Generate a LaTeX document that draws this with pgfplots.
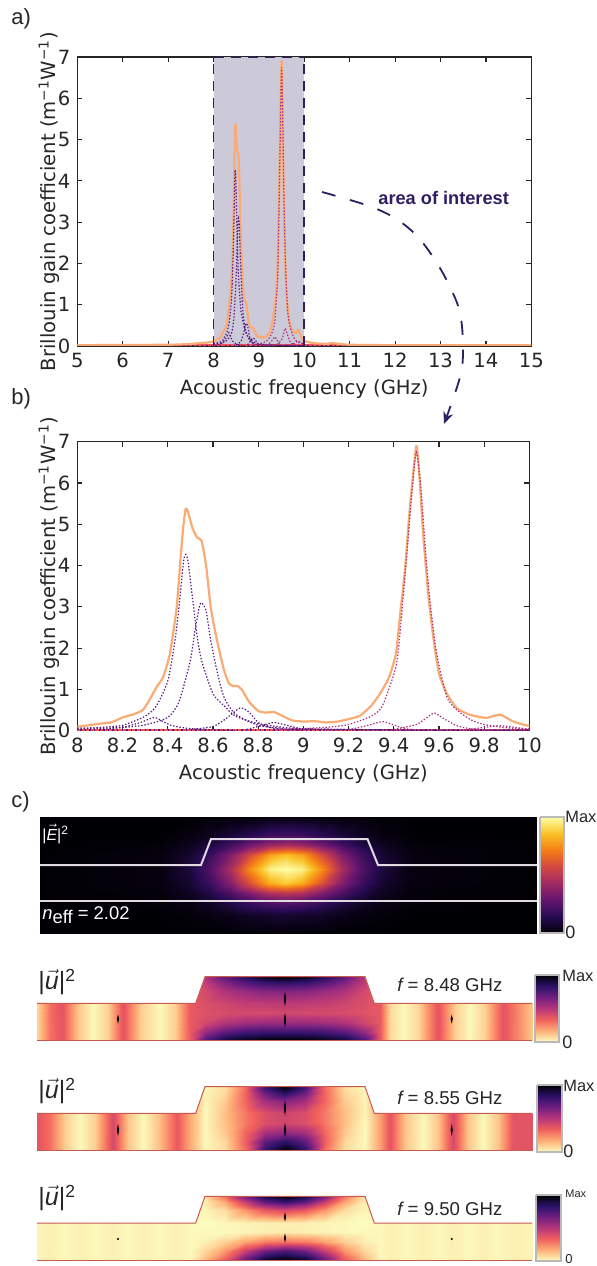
\documentclass[border=0pt]{standalone}
\usepackage{fontspec}
\usepackage{pgfplots}
\usepackage{pgfplotstable}
\pgfplotsset{compat=1.18}
\usetikzlibrary{arrows.meta}
\setmainfont{DejaVu Sans}
\newfontfamily\hv{Liberation Sans}
\definecolor{navy}{RGB}{48,30,100}
\definecolor{shade}{RGB}{204,201,216}
\definecolor{orng}{RGB}{250,170,115}
\definecolor{purp}{RGB}{88,24,128}
\definecolor{mage}{RGB}{172,45,125}
\definecolor{redd}{RGB}{240,80,90}
\definecolor{axc}{RGB}{38,38,38}
\definecolor{frm}{RGB}{185,185,185}
\definecolor{edge}{RGB}{198,90,80}
\definecolor{wg}{RGB}{226,218,226}
\pgfplotsset{colormap={inferno}{rgb255=(0,0,4) rgb255=(40,11,84) rgb255=(101,21,110) rgb255=(159,42,99) rgb255=(212,72,66) rgb255=(245,125,21) rgb255=(250,193,39) rgb255=(252,255,164)}}
\pgfplotsset{colormap={magmar}{rgb255=(252,253,191) rgb255=(254,176,120) rgb255=(241,96,93) rgb255=(183,55,121) rgb255=(114,31,129) rgb255=(44,17,104) rgb255=(0,0,4)}}
% spectra
\pgfplotstableread{
x y
5 .02
7 .03
7.5 .05
7.8 .08
8.0 .1
8.1 .17
8.15 .2
8.2 .32
8.25 .4
8.29 .5
8.32 .75
8.35 1.05
8.38 1.3
8.41 1.87
8.44 3.0
8.46 4.4
8.47 5.0
8.48 5.38
8.49 5.3
8.51 4.9
8.53 4.68
8.55 4.6
8.57 4.0
8.59 3.0
8.61 2.4
8.63 1.9
8.65 1.45
8.67 1.15
8.69 1.08
8.71 1.08
8.73 .98
8.76 .7
8.8 .48
8.83 .44
8.87 .45
8.9 .38
8.95 .25
9.0 .22
9.05 .23
9.1 .2
9.15 .22
9.2 .28
9.25 .36
9.3 .6
9.34 .9
9.38 1.3
9.41 1.87
9.43 2.9
9.45 3.9
9.47 5.3
9.5 6.9
9.515 6.07
9.53 4.78
9.553 3.3
9.575 2.27
9.6 1.39
9.635 .9
9.68 .54
9.74 .38
9.81 .31
9.87 .39
9.93 .22
10 .12
10.2 .07
10.5 .05
10.6 .07
10.8 .05
11 .03
12 .02
15 .02
}\Total
\pgfplotstableread{
x y
8.0 .06
8.1 .08
8.2 .13
8.3 .35
8.35 .6
8.4 1.2
8.43 2.1
8.45 3.0
8.47 4.1
8.48 4.27
8.49 4.1
8.51 3.2
8.53 2.3
8.55 1.7
8.6 .9
8.65 .6
8.7 .35
8.8 .17
8.9 .09
9 .05
9.5 .01
10 .01
}\SerA
\pgfplotstableread{
x y
8.0 .04
8.2 .08
8.3 .14
8.4 .32
8.45 .7
8.5 1.7
8.52 2.4
8.54 3.0
8.55 3.1
8.57 2.9
8.59 2.2
8.62 1.4
8.65 .8
8.7 .4
8.8 .13
8.9 .06
9 .03
10 .01
}\SerB
\pgfplotstableread{
x y
8.1 .03
8.2 .08
8.28 .2
8.34 .32
8.38 .22
8.42 .12
8.5 .05
8.6 .02
8.7 0
}\SerC
\pgfplotstableread{
x y
8.5 .03
8.6 .1
8.66 .3
8.72 .55
8.76 .45
8.8 .2
8.85 .08
8.9 .04
9 .02
}\SerD
\pgfplotstableread{
x y
8.75 .03
8.82 .13
8.87 .2
8.92 .14
9 .03
}\SerE
\pgfplotstableread{
x y
8.9 .03
9.1 .08
9.2 .15
9.3 .35
9.35 .6
9.41 1.55
9.43 2.5
9.457 4.2
9.48 5.75
9.5 6.75
9.52 5.9
9.54 4.4
9.56 3.16
9.59 1.87
9.635 .82
9.68 .5
9.74 .27
9.8 .15
9.9 .07
10 .04
}\SerF
\pgfplotstableread{
x y
9.1 0
9.2 .03
9.28 .12
9.35 .22
9.4 .14
9.45 .05
9.5 .02
}\SerG
\pgfplotstableread{
x y
9.4 .03
9.5 .15
9.55 .33
9.58 .43
9.62 .3
9.68 .12
9.75 .04
9.85 .01
}\SerH
\pgfplotstableread{
x y
9.7 .01
9.8 .08
9.87 .12
9.95 .07
10 .04
}\SerI
\pgfplotstableread{
x y
5 0
15 0
}\Zero
% optical field
\pgfplotstableread{
x y v
40 817 0
160 817 0
190 817 0
210 817 .01
230 817 .01
250 817 .01
270 817 .02
286 817 .02
302 817 .02
322 817 .01
342 817 .01
362 817 .01
382 817 0
412 817 0
537 817 0
40 835 0
160 835 0
190 835 .02
210 835 .05
230 835 .09
250 835 .14
270 835 .19
286 835 .2
302 835 .19
322 835 .14
342 835 .09
362 835 .05
382 835 .02
412 835 0
537 835 0
40 845 0
160 845 .01
190 845 .05
210 845 .11
230 845 .2
250 845 .32
270 845 .42
286 845 .45
302 845 .42
322 845 .32
342 845 .2
362 845 .11
382 845 .05
412 845 .01
537 845 0
40 855 0
160 855 .02
190 855 .08
210 855 .19
230 855 .35
250 855 .58
270 855 .8
286 855 .86
302 855 .8
322 855 .58
342 855 .35
362 855 .19
382 855 .08
412 855 .02
537 855 0
40 869 0
160 869 .02
190 869 .1
210 869 .24
230 869 .45
250 869 .75
270 869 .97
286 869 1
302 869 .97
322 869 .75
342 869 .45
362 869 .24
382 869 .1
412 869 .02
537 869 0
40 883 0
160 883 .02
190 883 .08
210 883 .19
230 883 .36
250 883 .6
270 883 .82
286 883 .88
302 883 .82
322 883 .6
342 883 .36
362 883 .19
382 883 .08
412 883 .02
537 883 0
40 893 0
160 893 .01
190 893 .05
210 893 .12
230 893 .23
250 893 .35
270 893 .47
286 893 .5
302 893 .47
322 893 .35
342 893 .23
362 893 .12
382 893 .05
412 893 .01
537 893 0
40 903 0
160 903 .01
190 903 .03
210 903 .06
230 903 .11
250 903 .18
270 903 .23
286 903 .25
302 903 .23
322 903 .18
342 903 .11
362 903 .06
382 903 .03
412 903 .01
537 903 0
40 915 0
160 915 0
190 915 .01
210 915 .02
230 915 .04
250 915 .06
270 915 .07
286 915 .08
302 915 .07
322 915 .06
342 915 .04
362 915 .02
382 915 .01
412 915 0
537 915 0
40 933 0
160 933 0
190 933 0
210 933 0
230 933 0
250 933 .01
270 933 .01
286 933 .01
302 933 .01
322 933 .01
342 933 0
362 933 0
382 933 0
412 933 0
537 933 0
}\Efield
% acoustic fields: centre part, local y measured from the rib top
\pgfplotstableread{
x y v
190 0 .36
205 0 .52
225 0 .72
245 0 .85
265 0 .95
285 0 1
305 0 .95
325 0 .85
345 0 .72
365 0 .52
380 0 .36
190 6 .36
205 6 .47
225 6 .62
245 6 .73
265 6 .8
285 6 .82
305 6 .8
325 6 .73
345 6 .62
365 6 .47
380 6 .36
190 14 .36
205 14 .42
225 14 .52
245 14 .58
265 14 .62
285 14 .63
305 14 .62
325 14 .58
345 14 .52
365 14 .42
380 14 .36
190 26.6 .36
205 26.6 .4
225 26.6 .44
245 26.6 .47
265 26.6 .48
285 26.6 .49
305 26.6 .48
325 26.6 .47
345 26.6 .44
365 26.6 .4
380 26.6 .36
190 36 .36
205 36 .39
225 36 .41
245 36 .42
265 36 .42
285 36 .43
305 36 .42
325 36 .42
345 36 .41
365 36 .39
380 36 .36
190 46 .36
205 46 .43
225 46 .52
245 46 .56
265 46 .58
285 46 .58
305 46 .58
325 46 .56
345 46 .52
365 46 .43
380 46 .36
190 55 .36
205 55 .58
225 55 .72
245 55 .78
265 55 .8
285 55 .8
305 55 .8
325 55 .78
345 55 .72
365 55 .58
380 55 .36
190 63.6 .36
205 63.6 .75
225 63.6 .92
245 63.6 .97
265 63.6 1
285 63.6 1
305 63.6 1
325 63.6 .97
345 63.6 .92
365 63.6 .75
380 63.6 .36
}\Uac
\pgfplotstableread{
x y v
37 26.6 .08
50 26.6 .3
62 26.6 .38
78 26.6 .12
93 26.6 .01
108 26.6 .1
123 26.6 .38
141 26.6 .1
160 26.6 .01
175 26.6 .1
190 26.6 .36
37 63.6 .08
50 63.6 .3
62 63.6 .38
78 63.6 .12
93 63.6 .01
108 63.6 .1
123 63.6 .38
141 63.6 .1
160 63.6 .01
175 63.6 .1
190 63.6 .36
}\Ual
\pgfplotstableread{
x y v
380 26.6 .36
390 26.6 .08
403 26.6 .01
418 26.6 .08
438 26.6 .38
455 26.6 .1
470 26.6 .01
485 26.6 .1
503 26.6 .38
518 26.6 .25
532 26.6 .12
380 63.6 .36
390 63.6 .08
403 63.6 .01
418 63.6 .08
438 63.6 .38
455 63.6 .1
470 63.6 .01
485 63.6 .1
503 63.6 .38
518 63.6 .25
532 63.6 .12
}\Uar
\pgfplotstableread{
x y v
190 0 .18
205 0 .01
225 0 .07
245 0 .3
265 0 .8
285 0 1
305 0 .8
325 0 .3
345 0 .07
365 0 .01
380 0 .2
190 6 .18
205 6 .02
225 6 .08
245 6 .32
265 6 .68
285 6 .85
305 6 .68
325 6 .32
345 6 .08
365 6 .02
380 6 .2
190 14 .18
205 14 .02
225 14 .11
245 14 .32
265 14 .55
285 14 .62
305 14 .55
325 14 .32
345 14 .11
365 14 .02
380 14 .2
190 26.6 .18
205 26.6 .01
225 26.6 .13
245 26.6 .28
265 26.6 .4
285 26.6 .44
305 26.6 .4
325 26.6 .28
345 26.6 .13
365 26.6 .02
380 26.6 .2
190 36 .18
205 36 .01
225 36 .13
245 36 .28
265 36 .4
285 36 .43
305 36 .4
325 36 .28
345 36 .13
365 36 .01
380 36 .2
190 46 .18
205 46 .01
225 46 .11
245 46 .32
265 46 .55
285 46 .6
305 46 .55
325 46 .32
345 46 .11
365 46 .01
380 46 .2
190 55 .18
205 55 .01
225 55 .08
245 55 .34
265 55 .72
285 55 .85
305 55 .72
325 55 .34
345 55 .08
365 55 .01
380 55 .2
190 63.6 .18
205 63.6 .01
225 63.6 .07
245 63.6 .3
265 63.6 .82
285 63.6 1
305 63.6 .82
325 63.6 .3
345 63.6 .07
365 63.6 .01
380 63.6 .2
}\Ubc
\pgfplotstableread{
x y v
37 26.6 .38
50 26.6 .3
65 26.6 .1
80 26.6 .01
95 26.6 .1
113 26.6 .42
128 26.6 .12
143 26.6 .01
158 26.6 .12
177 26.6 .36
190 26.6 .18
37 63.6 .38
50 63.6 .3
65 63.6 .1
80 63.6 .01
95 63.6 .1
113 63.6 .42
128 63.6 .12
143 63.6 .01
158 63.6 .12
177 63.6 .36
190 63.6 .18
}\Ubl
\pgfplotstableread{
x y v
380 26.6 .2
390 26.6 .38
405 26.6 .12
423 26.6 .01
438 26.6 .12
453 26.6 .42
468 26.6 .12
483 26.6 .01
498 26.6 .12
513 26.6 .38
532 26.6 .38
380 63.6 .2
390 63.6 .38
405 63.6 .12
423 63.6 .01
438 63.6 .12
453 63.6 .42
468 63.6 .12
483 63.6 .01
498 63.6 .12
513 63.6 .38
532 63.6 .38
}\Ubr
\pgfplotstableread{
x y v
190 0 .01
205 0 .06
225 0 .3
245 0 .68
265 0 .92
285 0 1
305 0 .92
325 0 .68
345 0 .3
365 0 .06
380 0 .02
190 6 .01
205 6 .03
225 6 .18
245 6 .45
265 6 .7
285 6 .8
305 6 .7
325 6 .45
345 6 .18
365 6 .03
380 6 .02
190 14 .01
205 14 .02
225 14 .07
245 14 .22
265 14 .36
285 14 .42
305 14 .36
325 14 .22
345 14 .07
365 14 .02
380 14 .02
190 26.6 .01
205 26.6 0
225 26.6 .01
245 26.6 .02
265 26.6 .03
285 26.6 .03
305 26.6 .03
325 26.6 .02
345 26.6 .01
365 26.6 0
380 26.6 .01
190 36 .01
205 36 .01
225 36 .01
245 36 .02
265 36 .03
285 36 .04
305 36 .03
325 36 .02
345 36 .01
365 36 .01
380 36 .01
190 46 .01
205 46 .03
225 46 .1
245 46 .2
265 46 .28
285 46 .3
305 46 .28
325 46 .2
345 46 .1
365 46 .03
380 46 .01
190 55 .01
205 55 .08
225 55 .22
245 55 .46
265 55 .68
285 55 .76
305 55 .68
325 55 .46
345 55 .22
365 55 .08
380 55 .01
190 63.6 .01
205 63.6 .14
225 63.6 .35
245 63.6 .7
265 63.6 .95
285 63.6 1
305 63.6 .95
325 63.6 .7
345 63.6 .35
365 63.6 .14
380 63.6 .01
}\Ucc
\pgfplotstableread{
x y v
37 26.6 .02
50 26.6 .03
65 26.6 .01
80 26.6 .03
95 26.6 .01
113 26.6 .03
128 26.6 .01
143 26.6 .03
158 26.6 .01
177 26.6 .03
190 26.6 .01
37 63.6 .02
50 63.6 .03
65 63.6 .01
80 63.6 .03
95 63.6 .01
113 63.6 .03
128 63.6 .01
143 63.6 .03
158 63.6 .01
177 63.6 .03
190 63.6 .01
}\Ucl
\pgfplotstableread{
x y v
380 26.6 .01
390 26.6 .03
405 26.6 .01
423 26.6 .03
438 26.6 .01
453 26.6 .03
468 26.6 .01
483 26.6 .03
498 26.6 .01
513 26.6 .03
532 26.6 .02
380 63.6 .01
390 63.6 .03
405 63.6 .01
423 63.6 .03
438 63.6 .01
453 63.6 .03
468 63.6 .01
483 63.6 .03
498 63.6 .01
513 63.6 .03
532 63.6 .02
}\Ucr
\pgfplotsset{
  specaxis/.style={
    scale only axis, tick align=inside, major tick length=2.5pt,
    xtick pos=both, ytick pos=both,
    axis line style={axc,line width=.6pt}, tick style={axc,line width=.6pt},
    ymin=0,ymax=7,ytick={0,...,7},
    /pgf/number format/assume math mode=true,
    tick label style={font=\fontsize{9.8}{11}\selectfont,text=axc},
    label style={font=\fontsize{9.8}{11}\selectfont,text=axc},
    xlabel={Acoustic frequency (GHz)},
    ylabel={Brillouin gain coefficient (m\textsuperscript{−1}W\textsuperscript{−1})},
    xlabel shift=-1pt, ylabel shift=-8pt,
  },
  dots/.style={line width=.6pt,dash pattern=on .7pt off .9pt,forget plot,smooth,tension=.4},
  full/.style={scale only axis,at={(0,0)},anchor=south west,width=298pt,height=633pt,
    xmin=0,xmax=596,ymin=0,ymax=1266,y dir=reverse,hide axis,point meta min=0,point meta max=1},
  hm/.style={surf,shader=interp,mesh/cols=#1,point meta=explicit},
}
\newcommand{\curves}{
  \addplot[redd,line width=1.6pt] table{\Zero};
  \addplot[purp,line width=1.2pt,dash pattern=on .7pt off 1.6pt] table{\Zero};
  \addplot[orng,line width=1.1pt,line join=round,smooth,tension=.3] table{\Total};
  \addplot[dots,purp] table{\SerA};
  \addplot[dots,purp] table{\SerB};
  \addplot[dots,purp] table{\SerC};
  \addplot[dots,purp] table{\SerD};
  \addplot[dots,purp] table{\SerE};
  \addplot[dots,mage] table{\SerF};
  \addplot[dots,mage] table{\SerG};
  \addplot[dots,mage] table{\SerH};
  \addplot[dots,mage] table{\SerI};
}
\newcommand{\field}[4]{% centre, left, right, top offset
  \addplot[hm=11] table[x=x,y expr=\thisrow{y}+#4,meta=v]{#1};
  \addplot[hm=11] table[x=x,y expr=\thisrow{y}+#4,meta=v]{#2};
  \addplot[hm=11] table[x=x,y expr=\thisrow{y}+#4,meta=v]{#3};
}
\begin{document}
\begin{tikzpicture}[x=1pt,y=1pt]
\useasboundingbox (0,0) rectangle (298,633);
% panel a
\begin{axis}[specaxis,at={(38.65pt,460pt)},anchor=south west,width=227pt,height=144.5pt,
  xmin=5,xmax=15,xtick={5,...,15}]
\addplot[fill=shade,draw=none,forget plot] coordinates {(8,0)(10,0)(10,7)(8,7)} --cycle;
\curves
\addplot[navy,line width=.95pt,dash pattern=on 5pt off 3.5pt] coordinates {(8,0)(8,7)};
\addplot[navy,line width=.95pt,dash pattern=on 5pt off 3.5pt] coordinates {(10,0)(10,7)};
\addplot[navy,line width=.95pt,dash pattern=on 5pt off 3.5pt] coordinates {(8,7)(10,7)};
\end{axis}
% panel b
\begin{axis}[specaxis,at={(38.65pt,267.65pt)},anchor=south west,width=226pt,height=144.5pt,
  xmin=8,xmax=10,xtick={8,8.2,8.4,8.6,8.8,9,9.2,9.4,9.6,9.8,10},xticklabels={8,8.2,8.4,8.6,8.8,9,9.2,9.4,9.6,9.8,10}]
\curves
\end{axis}
% optical field
\begin{axis}[full,colormap name=inferno]
\addplot[hm=15] table[x=x,y=y,meta=v]{\Efield};
\addplot[wg,line width=1pt] coordinates {(40,865)(201,865)(211,839)(367.5,839)(378,865)(537,865)};
\addplot[wg,line width=1pt] coordinates {(40,901)(537,901)};
\addplot[hm=2] table[x=x,y=y,meta=v,row sep=\\]{x y v\\ 540 817 1\\ 564 817 1\\ 540 933 0\\ 564 933 0\\};
\addplot[frm,line width=.6pt] coordinates {(540,817)(564,817)(564,933)(540,933)(540,817)};
\end{axis}
% acoustic fields
\begin{axis}[full,colormap name=magmar]
\field{\Uac}{\Ual}{\Uar}{976.7}
\addplot[fill=white,draw=none] coordinates {(36,975)(206,975)(195.7,1003.3)(36,1003.3)} --cycle;
\addplot[fill=white,draw=none] coordinates {(533,975)(364,975)(374.3,1003.3)(533,1003.3)} --cycle;
\addplot[edge,line width=.5pt] coordinates {(37,1003.3)(195.7,1003.3)(205,976.7)(365,976.7)(374.3,1003.3)(532,1003.3)};
\addplot[edge,line width=.5pt] coordinates {(37,1040.3)(532,1040.3)};
\addplot[only marks,mark=diamond*,black,mark size=1.9pt,mark options={xscale=.26,yscale=1.3}] coordinates {(285,999)(285,1020)};
\addplot[only marks,mark=diamond*,black,mark size=1.1pt,mark options={xscale=.4,yscale=1.3}] coordinates {(118,1019)(451.7,1019)};
\addplot[hm=2] table[x=x,y=y,meta=v,row sep=\\]{x y v\\ 535 975 1\\ 559 975 1\\ 535 1042 0\\ 559 1042 0\\};
\addplot[frm,line width=.6pt] coordinates {(535,975)(559,975)(559,1042)(535,1042)(535,975)};
\field{\Ubc}{\Ubl}{\Ubr}{1086.7}
\addplot[fill=white,draw=none] coordinates {(36,1085)(206,1085)(195.7,1113.3)(36,1113.3)} --cycle;
\addplot[fill=white,draw=none] coordinates {(533,1085)(364,1085)(374.3,1113.3)(533,1113.3)} --cycle;
\addplot[edge,line width=.5pt] coordinates {(37,1113.3)(195.7,1113.3)(205,1086.7)(365,1086.7)(374.3,1113.3)(532,1113.3)};
\addplot[edge,line width=.5pt] coordinates {(37,1150.3)(532,1150.3)};
\addplot[only marks,mark=diamond*,black,mark size=1.9pt,mark options={xscale=.26,yscale=1.3}] coordinates {(285,1108)(285,1130)};
\addplot[only marks,mark=diamond*,black,mark size=1.5pt,mark options={xscale=.3,yscale=1.3}] coordinates {(118,1130)(451.7,1130)};
\addplot[hm=2] table[x=x,y=y,meta=v,row sep=\\]{x y v\\ 537 1085 1\\ 562 1085 1\\ 537 1152 0\\ 562 1152 0\\};
\addplot[frm,line width=.6pt] coordinates {(537,1085)(562,1085)(562,1152)(537,1152)(537,1085)};
\field{\Ucc}{\Ucl}{\Ucr}{1196.3}
\addplot[fill=white,draw=none] coordinates {(36,1195)(206,1195)(195.7,1223)(36,1223)} --cycle;
\addplot[fill=white,draw=none] coordinates {(533,1195)(364,1195)(374.3,1223)(533,1223)} --cycle;
\addplot[edge,line width=.5pt] coordinates {(37,1223)(195.7,1223)(205,1196.3)(365,1196.3)(374.3,1223)(532,1223)};
\addplot[edge,line width=.5pt] coordinates {(37,1260)(532,1260)};
\addplot[only marks,mark=diamond*,black,mark size=1.1pt,mark options={xscale=.4,yscale=1.3}] coordinates {(285,1217)(285,1238)};
\addplot[only marks,mark=*,black,mark size=.25pt] coordinates {(118,1239)(451.7,1239)};
\addplot[hm=2] table[x=x,y=y,meta=v,row sep=\\]{x y v\\ 536 1195 1\\ 561 1195 1\\ 536 1261 0\\ 561 1261 0\\};
\addplot[frm,line width=.6pt] coordinates {(536,1195)(561,1195)(561,1261)(536,1261)(536,1195)};
\end{axis}
% annotation arrow
\draw[navy,line width=.9pt,dash pattern=on 7pt off 7.5pt,-{Stealth[length=6pt,width=5pt]}]
  plot[smooth,tension=.6] coordinates {(161,537)(183,530.5)(196.5,524.5)(208,515.5)(217.5,503)(225,489.5)(230,476.5)(231.5,459.5)(230,444.5)(222,421)};
\node[font=\hv\bfseries\fontsize{9.1}{10}\selectfont,text=navy,anchor=west,inner sep=0] at (189,534) {area of interest};
% panel letters
\def\lab#1#2#3{\node[font=\hv\fontsize{11}{12}\selectfont,text=axc,anchor=west,inner sep=0] at (#1,#2) {#3};}
\lab{5.5}{623.5}{a)}
\lab{5.5}{433.5}{b)}
\lab{5.5}{232}{c)}
% field labels
\node[font=\hv\fontsize{8}{10}\selectfont,text=white,anchor=west,inner sep=0] at (21,216) {|$\vec{\mbox{\hv\itshape E}}$|\textsuperscript{2}};
\node[font=\hv\fontsize{9.2}{12}\selectfont,text=white,anchor=west,inner sep=0] at (21,175.5) {{\itshape n}\raisebox{-.35ex}{eff} = 2.02};
\def\ulab#1{\node[font=\hv\fontsize{12.5}{15}\selectfont,text=axc,anchor=west,inner sep=0] at (19,#1) {|$\vec{\mbox{\hv\itshape u}}$|\textsuperscript{2}};}
\ulab{142}\ulab{87.5}\ulab{34}
\def\flab#1#2{\node[font=\hv\fontsize{9.3}{11}\selectfont,text=axc,anchor=west,inner sep=0] at (198.5,#1) {{\itshape f} = #2 GHz};}
\flab{140.5}{8.48}\flab{84}{8.55}\flab{28.5}{9.50}
\def\cb#1#2#3#4#5{\node[font=\hv\fontsize{#4}{10}\selectfont,text=axc,anchor=west,inner sep=0] at (#1,#2) {Max};
 \node[font=\hv\fontsize{#5}{10}\selectfont,text=axc,anchor=west,inner sep=0] at (#1,#3) {0};}
\cb{282.5}{224.5}{167}{8.2}{9}
\cb{281}{145}{112}{8.2}{9}
\cb{281.5}{90}{57.5}{8.2}{9}
\cb{282.5}{36}{3.5}{5.5}{6.5}
\end{tikzpicture}
\end{document}
